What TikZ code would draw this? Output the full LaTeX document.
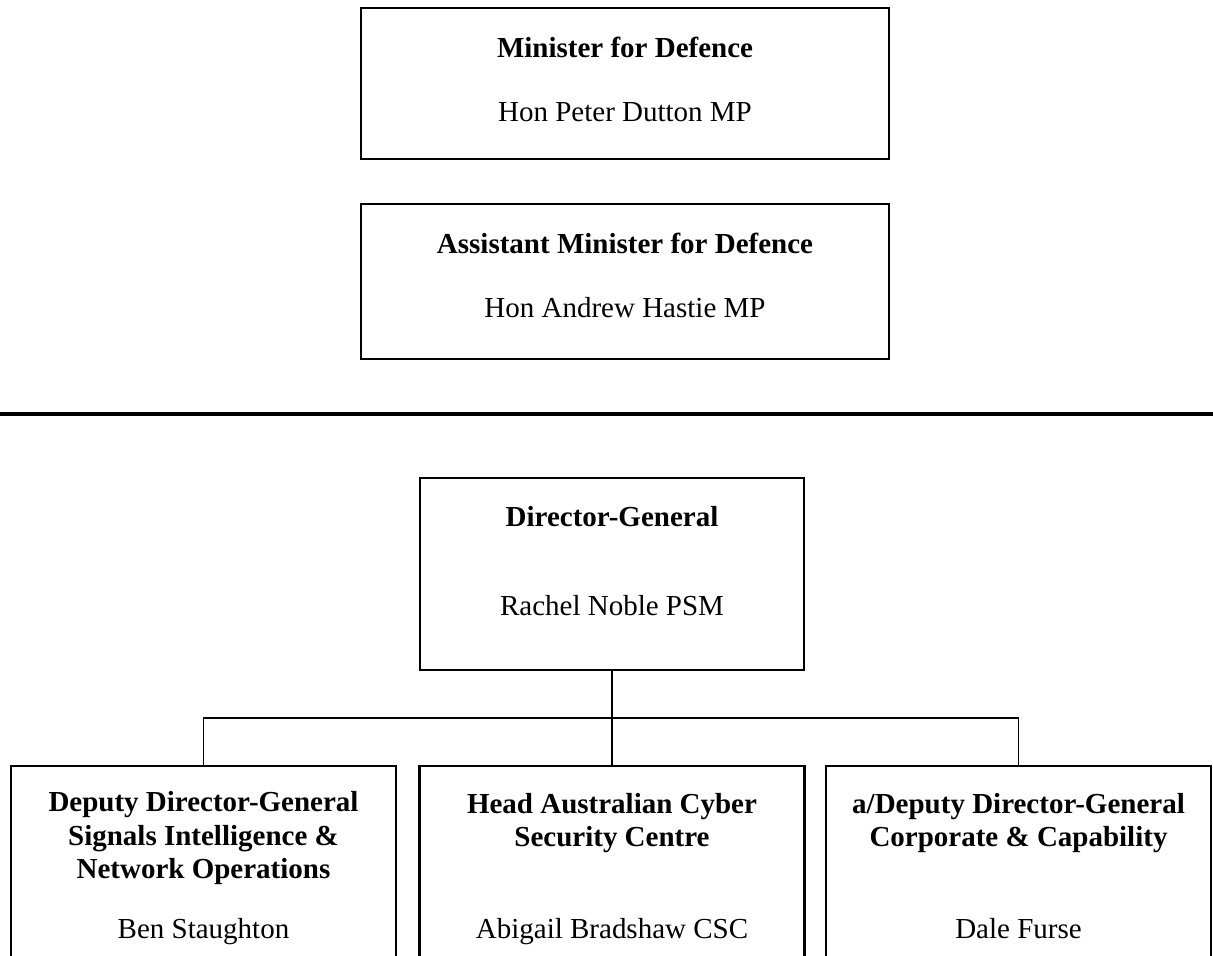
\documentclass[tikz,border=0pt]{standalone}
\usepackage{fontspec}
\setmainfont{Liberation Serif}
\usetikzlibrary{calc}
\tikzset{
	post/.style={draw, line width=1.4pt, inner sep=0pt},
	head/.style={font=\fontsize{16.5}{19}\selectfont\bfseries, align=center, inner sep=0pt, anchor=base},
	holder/.style={font=\fontsize{16.5}{19}\selectfont, inner sep=0pt, anchor=base},
	link/.style={line width=0.6pt}
}

\begin{document}
\begin{tikzpicture}
	\useasboundingbox (0,0) rectangle (24.26,19.12);
	\clip (0,0) rectangle (24.26,19.12);
	% ministers
	\node[post, minimum width=10.56cm, minimum height=3.02cm] (min) at (12.5,17.45) {};
	\node[head] (mint) at ($(min.north)+(0,-1.02)$) {Minister for Defence};
	\node[holder] (minn) at ($(min.north)+(0,-2.3)$) {Hon Peter Dutton MP};
	\node[post, minimum width=10.56cm, minimum height=3.1cm] (amin) at (12.5,13.49) {};
	\node[head] (amint) at ($(amin.north)+(0,-1.02)$) {Assistant Minister for Defence};
	\node[holder] (aminn) at ($(amin.north)+(0,-2.3)$) {Hon Andrew Hastie MP};
	\draw[line width=2.3pt] (0,10.84)--(24.26,10.84);
	% agency
	\node[post, minimum width=7.68cm, minimum height=3.84cm] (dg) at (12.24,7.64) {};
	\node[head] (dgt) at ($(dg.north)+(0,-1)$) {Director-General};
	\node[holder] (dgn) at ($(dg.north)+(0,-2.78)$) {Rachel Noble PSM};
	\node[post, minimum width=7.7cm, minimum height=4.4cm] (ddgs) at (4.07,1.6) {};
	\node[post, minimum width=7.7cm, minimum height=4.4cm] (hacsc) at (12.24,1.6) {};
	\node[post, minimum width=7.7cm, minimum height=4.4cm] (ddgc) at (20.37,1.6) {};
	% base of a multi-line head is its last line
	\node[head] (ddgst) at ($(ddgs.north)+(0,-2.28)$) {Deputy Director-General\\Signals Intelligence \&\\Network Operations};
	\node[head] (hacsct) at ($(hacsc.north)+(0,-1.64)$) {Head Australian Cyber\\Security Centre};
	\node[head] (ddgct) at ($(ddgc.north)+(0,-1.64)$) {a/Deputy Director-General\\Corporate \& Capability};
	\node[holder] (ddgsn) at ($(ddgs.north)+(0,-3.48)$) {Ben Staughton};
	\node[holder] (hacscn) at ($(hacsc.north)+(0,-3.48)$) {Abigail Bradshaw CSC};
	\node[holder] (ddgcn) at ($(ddgc.north)+(0,-3.48)$) {Dale Furse};
	% lines
	\coordinate (bar) at ($(dg.south)!0.5!(hacsc.north)$);
	\draw[link] (dg.south)--(hacsc.north);
	\draw[link] (ddgs.north) |- (bar) -| (ddgc.north);
\end{tikzpicture}
\end{document}
